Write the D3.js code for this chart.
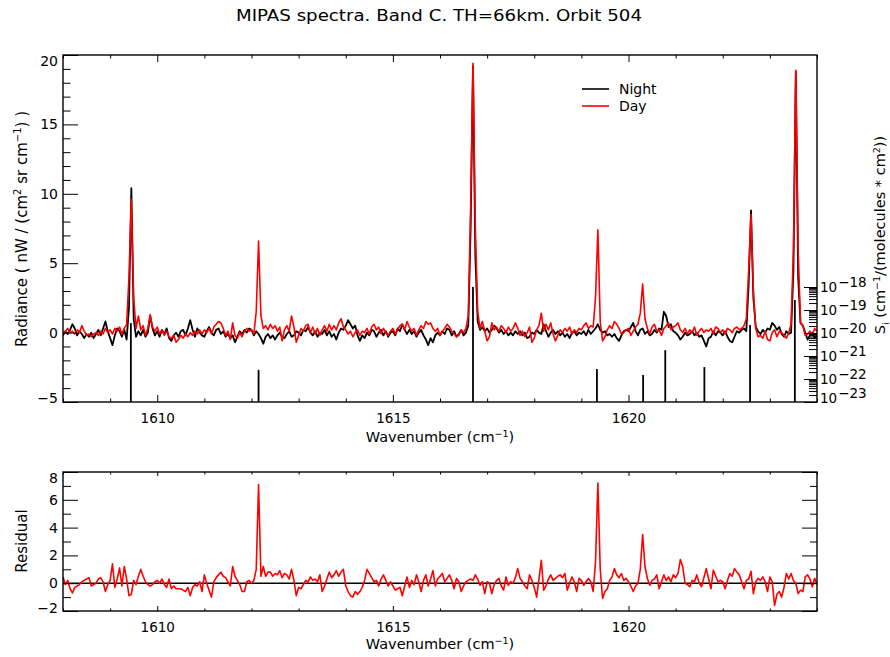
<!DOCTYPE html>
<html><head><meta charset="utf-8">
<script src="https://cdn.jsdelivr.net/npm/d3@7"></script>
<style>body{margin:0;background:#fff} text{font-family:"DejaVu Sans",sans-serif;fill:#000}</style>
</head><body><svg id="c" width="890" height="657"></svg>
<script>
// ---- data ----
const wnStart = 1608, wnStep = 0.05;   // spectral sampling grid (cm-1)
const night = [
-0.2,0.1,-0.1,0.2,0.6,0.3,-0.2,0.1,-0.1,-0.4,-0.1,-0.3,0.0,-0.4,-0.1,0.2,-0.2,0.3,0.8,0.1,
-0.4,-0.9,-0.2,0.3,0.1,-0.3,0.2,-0.5,1.8,10.4,1.0,-0.3,0.1,-0.2,0.2,-0.3,0.0,1.2,0.3,-0.2,
0.1,-0.3,0.2,-0.1,0.3,-0.4,-0.6,-0.2,0.0,-0.3,0.1,0.2,-0.2,0.3,0.9,0.2,-0.3,0.3,0.0,-0.2,
-0.3,0.1,0.4,0.0,-0.2,0.2,0.3,-0.1,0.1,-0.3,-0.1,-0.4,-0.2,-0.7,-0.3,0.1,-0.1,0.2,0.0,0.3,
0.2,-0.2,0.1,-0.1,-0.4,-0.8,-0.3,-0.1,-0.4,-0.2,-0.5,-0.2,0.0,-0.3,-0.4,-0.1,0.1,-0.3,-0.2,0.1,
0.0,-0.2,0.2,0.1,0.4,0.0,-0.2,0.1,-0.3,0.0,-0.1,0.2,-0.2,0.1,-0.3,-0.1,-0.5,0.0,0.3,0.2,
0.5,0.9,0.6,0.3,0.5,-0.2,-0.6,-0.2,-0.4,0.0,-0.2,0.2,0.1,-0.3,0.0,0.2,-0.2,0.1,-0.3,0.0,
0.1,-0.2,0.3,0.1,0.6,0.2,-0.1,0.2,-0.1,0.1,-0.3,0.0,0.2,-0.2,-0.5,-0.9,-0.4,-0.7,-0.2,0.0,
-0.2,0.1,-0.1,0.3,0.2,-0.2,0.1,-0.3,-0.1,0.2,-0.2,0.0,0.5,7.5,19.2,5.5,0.8,0.2,0.4,0.1,
0.3,0.0,0.2,0.5,0.3,0.0,0.2,-0.1,0.1,-0.2,0.0,-0.2,0.1,-0.1,0.1,-0.2,0.0,-0.4,-0.3,0.0,
-0.1,0.2,0.0,-0.1,0.6,0.1,-0.3,0.0,0.2,-0.1,0.1,-0.2,0.0,-0.3,-0.1,-0.4,0.0,0.1,-0.2,0.0,
-0.1,0.1,-0.2,0.2,-0.1,0.1,0.3,0.6,0.2,0.0,0.1,-0.2,-0.1,-0.3,-0.1,-0.4,-0.6,-0.2,0.1,0.2,
0.1,0.4,0.7,0.1,-0.2,0.2,0.3,-0.1,0.1,-0.2,-0.1,0.2,0.0,0.3,0.2,1.5,1.2,0.4,0.6,0.1,
0.0,-0.2,-0.5,-0.3,0.0,-0.2,-0.1,0.1,-0.2,0.0,-0.3,-0.2,-0.6,-1.0,-0.4,-0.3,0.1,-0.2,0.1,0.0,
-0.2,0.1,-0.3,-0.6,-0.7,-0.3,0.1,0.0,0.2,0.3,0.1,3.5,8.8,2.5,0.4,0.1,-0.1,0.2,0.0,0.3,
0.2,0.7,0.5,0.2,0.4,-0.1,-0.3,0.1,-0.1,0.0,4.5,18.8,4.0,0.7,0.5,0.0,-0.5,-0.2,0.0,-0.4,
-0.2];
const day = [
-0.1,0.1,0.3,0.0,0.1,-0.1,0.2,0.0,0.5,0.1,-0.2,-0.1,-0.3,-0.1,0.0,-0.2,0.1,-0.1,0.3,0.0,
0.2,-0.1,0.3,0.1,0.4,-0.1,0.3,0.6,4.0,9.6,2.5,0.3,1.2,0.2,0.5,-0.2,0.3,1.3,0.4,0.1,
0.4,-0.1,0.2,-0.2,0.1,-0.3,-0.4,-0.2,-0.7,-0.5,-0.2,-0.4,-0.1,-0.3,0.0,-0.2,0.1,-0.1,0.2,-0.1,
0.2,0.0,0.3,-0.1,0.4,0.6,0.8,0.7,0.3,-0.2,0.1,-0.5,0.7,-0.2,-0.4,0.0,-0.3,0.1,0.3,0.1,
0.2,-0.1,1.5,6.6,1.2,0.3,0.5,0.2,0.6,0.3,0.5,0.1,0.4,-0.6,0.2,0.5,0.1,1.2,0.4,-0.7,
-0.2,0.3,0.1,0.5,0.6,0.0,0.4,-0.1,0.3,-0.2,0.2,0.5,0.1,0.6,0.2,0.5,0.2,0.7,1.0,0.4,
0.2,-0.1,0.1,-0.3,0.0,0.2,-0.2,0.1,0.0,0.3,-0.1,0.4,0.6,0.2,0.4,-0.1,0.3,0.0,-0.2,0.1,
0.3,-0.1,0.2,0.5,0.6,0.2,0.8,0.4,0.1,0.3,-0.2,0.2,0.5,0.3,0.8,0.6,0.7,0.3,0.1,0.3,
-0.2,0.1,0.3,0.6,0.4,0.1,-0.1,-0.3,-0.2,0.2,0.0,0.3,1.2,9.0,19.4,7.5,1.5,0.3,0.8,0.1,
-0.6,-0.3,0.7,0.2,0.4,0.1,0.5,0.3,0.0,0.4,0.1,0.3,0.7,0.3,-0.2,0.1,-0.3,0.0,0.4,-0.7,
-0.4,0.2,0.5,1.4,0.1,0.6,0.2,0.7,-0.1,-0.6,-0.2,0.2,0.0,0.3,0.1,0.4,-0.1,0.2,0.0,0.3,
0.2,0.5,0.7,0.3,0.5,0.4,2.5,7.4,0.8,-0.6,-0.3,0.2,0.5,0.3,0.8,0.6,0.3,-0.1,0.0,0.2,
0.3,-0.2,0.1,0.4,0.6,1.4,3.5,1.0,0.3,-0.1,0.4,0.6,0.1,0.2,-0.2,0.3,0.5,0.7,0.2,0.4,
0.5,0.7,0.2,0.0,0.3,-0.1,0.2,0.0,0.4,-0.2,0.1,0.3,0.0,0.2,0.1,0.3,-0.1,0.4,0.3,0.0,
0.2,-0.1,0.3,0.2,0.0,0.3,0.4,0.2,0.3,0.5,1.0,4.5,8.5,3.0,0.3,-0.3,-0.2,-0.4,0.1,-0.5,
-0.6,0.0,0.2,-0.3,0.1,0.0,-0.2,-0.4,0.0,0.6,6.0,18.9,6.0,0.7,0.5,-0.2,-0.1,0.1,-0.2,0.3,
0.1];
const residual = [
0.45,-0.1,0.2,-0.4,-0.7,-0.3,-0.2,-0.1,0.1,0.2,0.3,0.4,-0.2,-0.1,0.0,0.3,0.4,0.1,-0.6,-0.1,
0.2,1.4,-0.3,0.3,1.1,-0.2,1.2,0.3,-0.9,-0.8,0.2,-0.1,0.5,1.0,0.5,0.1,-0.1,-0.2,-0.1,0.1,
0.2,0.0,0.3,-0.1,-0.3,0.3,-0.4,-0.2,-0.4,-0.4,-0.4,-0.5,-0.6,-0.3,-0.9,-0.3,-0.1,-0.2,0.1,-0.6,
0.6,0.0,-0.5,-1.0,0.1,0.4,0.6,0.8,0.5,0.4,0.1,-0.2,1.2,0.5,0.2,-0.1,-0.6,-0.6,0.1,0.2,
0.0,0.2,1.0,7.1,0.5,1.2,0.5,0.8,0.8,0.5,0.7,0.6,0.9,0.4,0.7,0.6,0.3,1.0,0.2,-0.9,
-0.3,-0.4,-0.1,0.2,0.1,0.45,0.2,0.3,0.1,0.6,-0.6,-0.2,0.3,0.8,0.4,0.6,0.9,0.5,0.8,1.0,
-0.2,-0.6,-0.9,-1.0,-0.6,-0.8,-0.6,-0.3,0.2,1.0,0.7,0.4,0.1,0.2,-0.2,0.3,0.6,0.2,-0.2,0.1,
-0.2,-0.5,-0.4,-0.3,-0.9,-0.2,0.45,-0.3,0.2,-0.1,0.6,0.1,-0.6,0.2,0.6,-0.2,0.3,0.9,-0.2,0.3,
0.5,0.7,0.1,0.35,0.6,0.2,-0.4,0.35,0.1,-0.6,-0.2,0.1,0.2,0.3,0.2,0.6,0.3,-0.15,0.1,-0.75,
0.1,0.0,-0.75,-0.1,0.2,0.35,-0.2,-0.5,0.45,-0.15,0.1,0.0,0.4,1.05,0.35,0.1,-0.2,-0.4,0.6,0.2,
-0.3,-1.0,0.3,1.65,-0.5,-0.2,0.3,0.6,0.2,0.35,0.5,0.6,0.4,0.7,-0.5,0.0,0.45,0.1,-0.6,0.35,
0.2,-0.15,0.1,0.35,0.1,-0.6,1.5,7.2,1.0,-1.1,-0.6,-0.4,0.2,0.45,1.05,0.6,0.4,0.7,0.2,0.35,
0.1,-0.2,-0.6,-0.2,0.0,1.0,3.5,1.2,0.35,-0.15,0.2,0.3,0.6,-0.4,0.1,0.6,0.2,0.45,0.1,0.6,
0.4,0.7,1.7,1.2,0.0,-0.1,-0.25,0.2,0.1,0.6,0.0,-0.25,0.4,1.05,0.3,-0.4,0.95,0.5,0.1,0.2,
0.1,-0.4,0.2,0.7,0.5,1.05,0.8,0.6,0.1,-0.4,0.2,0.3,0.85,-0.75,0.1,0.35,0.2,0.45,0.1,-0.6,
0.45,0.1,-1.6,-0.8,-0.6,-1.0,-0.3,0.7,0.3,0.7,0.2,0.0,-0.75,-0.5,-0.6,0.45,0.6,0.3,-0.25,0.35,
-0.1];
// line list (spectroscopic line positions and intensities)
const lineCenters   = [1609.44, 1612.15, 1616.70, 1619.33, 1620.31, 1620.78, 1621.61, 1622.58, 1623.53];
const lineStrengths = [2.7e-20, 2.5e-22, 1.0e-18, 2.7e-22, 1.5e-22, 1.8e-21, 3.3e-22, 2.2e-20, 2.7e-19];
const xTicks = [1610, 1615, 1620];
const radianceTicks = [-5, 0, 5, 10, 15, 20];
const residualTicks = [-2, 0, 2, 4, 6, 8];
const strengthTicks = [1e-23, 1e-22, 1e-21, 1e-20, 1e-19, 1e-18];
const seriesNames = ["Night", "Day"];
const seriesColors = ["#000000", "#ff0000"];
const titleText = "MIPAS spectra. Band C. TH=66km. Orbit 504";

// ---- layout ----
const L = 63, R = 817, T1 = 55, B1 = 402, T2 = 472, B2 = 611;
const svg = d3.select("#c");
const wn = night.map((_, i) => +(wnStart + i * wnStep).toFixed(3));

const x = d3.scaleLinear().domain([1608, 1624]).range([L, R]);
const y1 = d3.scaleLinear().domain([-5, 20]).range([B1, T1]);
const yS = d3.scaleLog().domain([1e-23, 1e-18]).range([B1, 287]);
const y2 = d3.scaleLinear().domain([-2, 8]).range([B2, T2]);

const xMinor = d3.range(1608, 1625, 1).filter(v => !xTicks.includes(v));
const radMinor = d3.range(-5, 21, 1).filter(v => !radianceTicks.includes(v));
const resMinor = d3.range(-2, 9, 1).filter(v => !residualTicks.includes(v));
const sMinor = [];
for (let e = -23; e < -18; e++) for (let k = 2; k <= 9; k++) sMinor.push(k * Math.pow(10, e));

function clean(g, fs) {
  g.select(".domain").remove();
  g.selectAll("line").attr("stroke", "#000").attr("stroke-width", 1);
  g.selectAll("text").attr("font-size", fs || 13).attr("fill", "#000")
    .attr("font-family", "DejaVu Sans, sans-serif");
}
function addAxis(axis, tx, ty, fs) {
  const g = svg.append("g").attr("transform", `translate(${tx},${ty})`).call(axis);
  clean(g, fs);
  return g;
}

// clip paths
const defs = svg.append("defs");
defs.append("clipPath").attr("id", "clipTop").append("rect").attr("x", L).attr("y", T1).attr("width", R - L).attr("height", B1 - T1);
defs.append("clipPath").attr("id", "clipBot").append("rect").attr("x", L).attr("y", T2).attr("width", R - L).attr("height", B2 - T2);

// title
svg.append("text").attr("x", 439).attr("y", 21).attr("text-anchor", "middle")
  .attr("font-size", 15).attr("textLength", 406).attr("lengthAdjust", "spacingAndGlyphs").text(titleText);

// ---- top panel ----
const lineTop = d3.line().x((d, i) => x(wn[i])).y(d => y1(d));
const gTop = svg.append("g").attr("clip-path", "url(#clipTop)");
gTop.append("path").datum(night).attr("d", lineTop).attr("fill", "none")
  .attr("stroke", seriesColors[0]).attr("stroke-width", 1.8).attr("stroke-linejoin", "round");
gTop.append("path").datum(day).attr("d", lineTop).attr("fill", "none")
  .attr("stroke", seriesColors[1]).attr("stroke-width", 1.6).attr("stroke-linejoin", "round");
// line strength sticks
svg.append("g").selectAll("line").data(lineCenters).join("line")
  .attr("x1", d => x(d)).attr("x2", d => x(d))
  .attr("y1", yS(1e-23)).attr("y2", (d, i) => yS(lineStrengths[i]))
  .attr("stroke", "#000").attr("stroke-width", 1.8);

// frame
svg.append("rect").attr("x", L).attr("y", T1).attr("width", R - L).attr("height", B1 - T1)
  .attr("fill", "none").attr("stroke", "#000").attr("stroke-width", 1.4);

// x axes (top panel)
addAxis(d3.axisBottom(x).tickValues(xTicks).tickSizeInner(-7).tickSizeOuter(0).tickPadding(11).tickFormat(d3.format("d")), 0, B1, 13.5);
addAxis(d3.axisBottom(x).tickValues(xMinor).tickSizeInner(-3.5).tickSizeOuter(0).tickFormat(""), 0, B1);
addAxis(d3.axisTop(x).tickValues(xTicks).tickSizeInner(-7).tickSizeOuter(0).tickFormat(""), 0, T1);
addAxis(d3.axisTop(x).tickValues(xMinor).tickSizeInner(-3.5).tickSizeOuter(0).tickFormat(""), 0, T1);
// y axis left
const gy1 = addAxis(d3.axisLeft(y1).tickValues(radianceTicks).tickSizeInner(-15).tickSizeOuter(0).tickPadding(5), L, 0, 14);
addAxis(d3.axisLeft(y1).tickValues(radMinor).tickSizeInner(-7.5).tickSizeOuter(0).tickFormat(""), L, 0);
gy1.selectAll(".tick text").filter(d => d === 20).attr("dy", "0.78em");
gy1.selectAll(".tick text").filter(d => d === -5).attr("dy", "0.0em");
// log axis right
const gS = addAxis(d3.axisRight(yS).tickValues(strengthTicks).tickSizeInner(-13).tickSizeOuter(0).tickFormat(""), R, 0);
addAxis(d3.axisRight(yS).tickValues(sMinor).tickSizeInner(-8).tickSizeOuter(0).tickFormat(""), R, 0);
gS.selectAll(".tick").each(function (d) {
  const t = d3.select(this).select("text").attr("x", 3).attr("dy", d === 1e-23 ? "0em" : "0.36em")
    .attr("text-anchor", "start").attr("font-size", 13.5);
  t.text(null);
  t.append("tspan").text("10");
  t.append("tspan").attr("dy", -5).attr("dx", 1).text("\u2212" + String(-Math.round(Math.log10(d))));
});

// axis titles (top)
const yl = svg.append("text").attr("transform", "translate(27,229) rotate(-90)").attr("text-anchor", "middle").attr("font-size", 15);
yl.append("tspan").text("Radiance ( nW / (cm");
yl.append("tspan").attr("dy", -6).attr("font-size", 10).text("2");
yl.append("tspan").attr("dy", 6).text(" sr cm");
yl.append("tspan").attr("dy", -6).attr("font-size", 10).text("\u22121");
yl.append("tspan").attr("dy", 6).text(") )");

function xTitle(yPos) {
  const t = svg.append("text").attr("x", 440).attr("y", yPos).attr("text-anchor", "middle").attr("font-size", 14.5);
  t.append("tspan").text("Wavenumber (cm");
  t.append("tspan").attr("dy", -5).attr("font-size", 9.5).text("\u22121");
  t.append("tspan").attr("dy", 5).text(")");
}
xTitle(442);

const sl = svg.append("text").attr("transform", "translate(885,235) rotate(-90)").attr("text-anchor", "middle").attr("font-size", 14.5);
sl.append("tspan").text("S");
sl.append("tspan").attr("dy", 4).attr("font-size", 9.5).text("i");
sl.append("tspan").attr("dy", -4).text(" (cm");
sl.append("tspan").attr("dy", -5).attr("font-size", 9.5).text("\u22121");
sl.append("tspan").attr("dy", 5).text("/(molecules * cm");
sl.append("tspan").attr("dy", -5).attr("font-size", 9.5).text("2");
sl.append("tspan").attr("dy", 5).text("))");

// legend
const legY = [89, 106];
seriesNames.forEach((n, i) => {
  svg.append("line").attr("x1", 582).attr("x2", 609).attr("y1", legY[i]).attr("y2", legY[i])
    .attr("stroke", seriesColors[i]).attr("stroke-width", 1.6);
  svg.append("text").attr("x", 619).attr("y", legY[i] + 5).attr("font-size", 14).text(n);
});

// ---- bottom panel ----
svg.append("line").attr("x1", L).attr("x2", R).attr("y1", y2(0)).attr("y2", y2(0))
  .attr("stroke", "#000").attr("stroke-width", 1.6);
const lineBot = d3.line().x((d, i) => x(wn[i])).y(d => y2(d));
svg.append("g").attr("clip-path", "url(#clipBot)").append("path").datum(residual).attr("d", lineBot)
  .attr("fill", "none").attr("stroke", seriesColors[1]).attr("stroke-width", 1.6).attr("stroke-linejoin", "round");
svg.append("rect").attr("x", L).attr("y", T2).attr("width", R - L).attr("height", B2 - T2)
  .attr("fill", "none").attr("stroke", "#000").attr("stroke-width", 1.4);

addAxis(d3.axisBottom(x).tickValues(xTicks).tickSizeInner(-5).tickSizeOuter(0).tickPadding(11).tickFormat(d3.format("d")), 0, B2, 13.5);
addAxis(d3.axisBottom(x).tickValues(xMinor).tickSizeInner(-2.5).tickSizeOuter(0).tickFormat(""), 0, B2);
addAxis(d3.axisTop(x).tickValues(xTicks).tickSizeInner(-4).tickSizeOuter(0).tickFormat(""), 0, T2);
addAxis(d3.axisTop(x).tickValues(xMinor).tickSizeInner(-2.5).tickSizeOuter(0).tickFormat(""), 0, T2);
const gy2 = addAxis(d3.axisLeft(y2).tickValues(residualTicks).tickSizeInner(-15).tickSizeOuter(0).tickPadding(5), L, 0, 14);
addAxis(d3.axisLeft(y2).tickValues(resMinor).tickSizeInner(-8).tickSizeOuter(0).tickFormat(""), L, 0);
addAxis(d3.axisRight(y2).tickValues(residualTicks).tickSizeInner(-15).tickSizeOuter(0).tickFormat(""), R, 0);
addAxis(d3.axisRight(y2).tickValues(resMinor).tickSizeInner(-7).tickSizeOuter(0).tickFormat(""), R, 0);
gy2.selectAll(".tick text").filter(d => d === 8).attr("dy", "0.75em");
gy2.selectAll(".tick text").filter(d => d === -2).attr("dy", "0.1em");

svg.append("text").attr("transform", "translate(27,541) rotate(-90)").attr("text-anchor", "middle")
  .attr("font-size", 15).text("Residual");
xTitle(649);
</script></body></html>
